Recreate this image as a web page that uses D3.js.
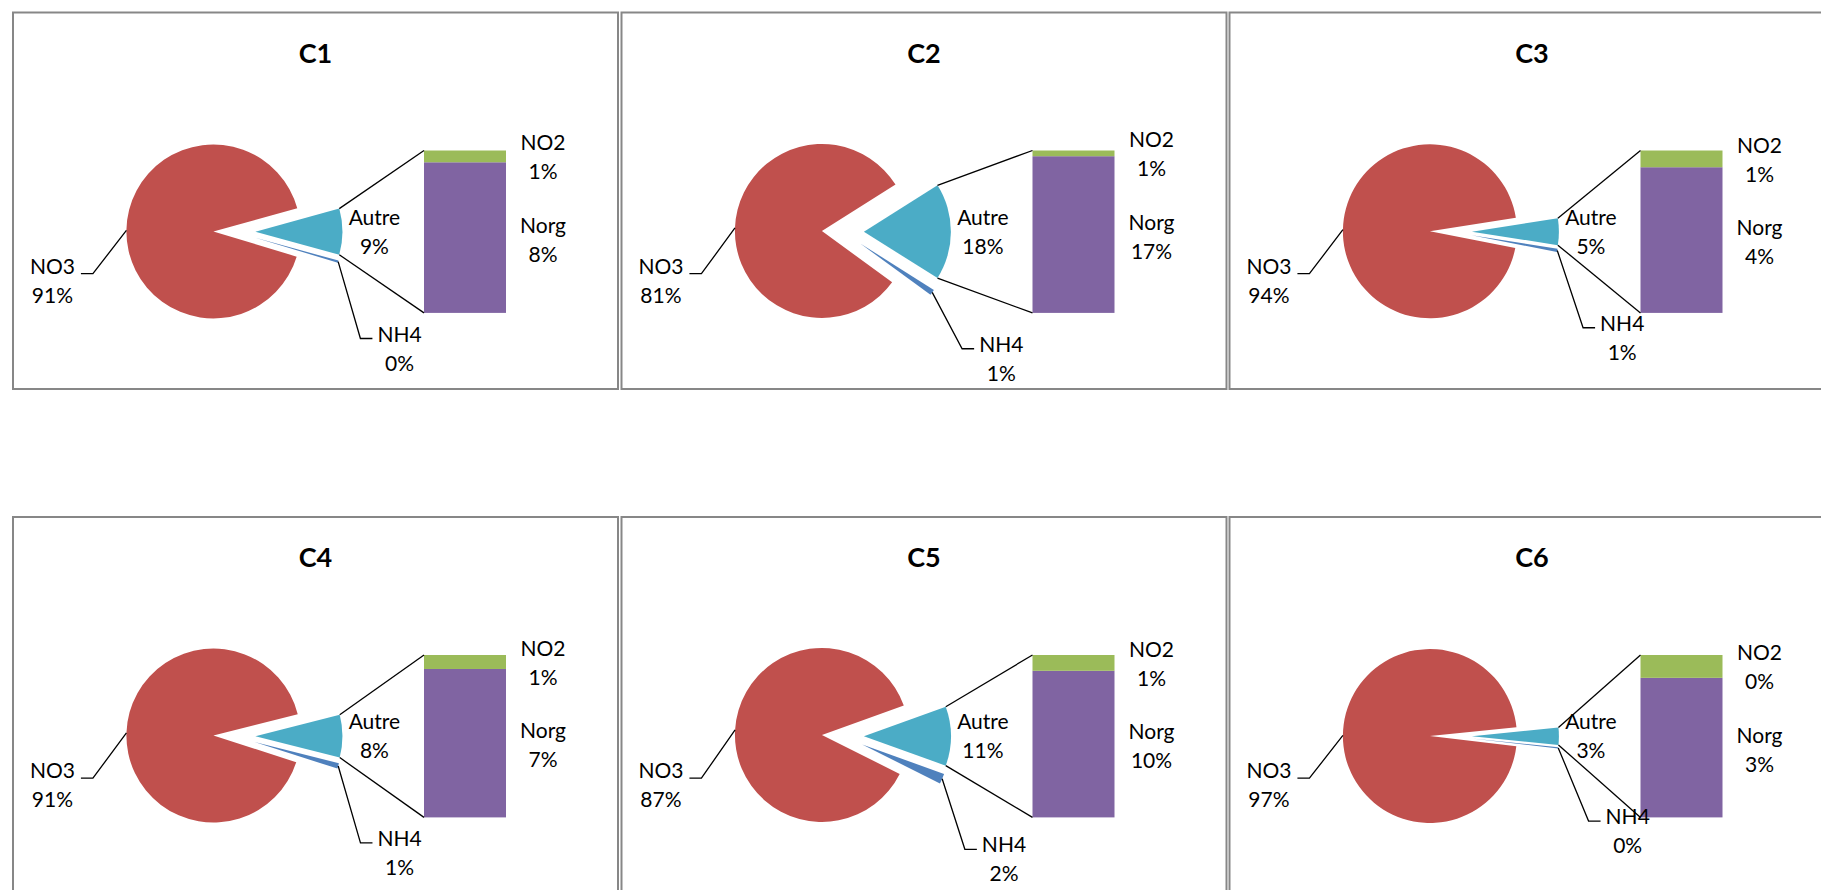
<!DOCTYPE html>
<html><head><meta charset="utf-8">
<script src="https://cdn.jsdelivr.net/npm/d3@7"></script>
<style>
body{margin:0;background:#fff;}
text{font-family:Lato,"Open Sans",sans-serif;fill:#000;}
</style>
</head><body>
<svg id="chart" width="1821" height="890"></svg>
<script>
// ---- data (percent of total N) ----
const charts = ["C1", "C2", "C3", "C4", "C5", "C6"];
const NO3  = [91.05, 81.00, 94.45, 91.10, 87.10, 96.55];
const NH4  = [0.40, 1.10, 0.60, 1.00, 1.90, 0.25];
const NO2  = [0.62, 0.63, 0.51, 0.68, 1.07, 0.45];
const Norg = [7.93, 17.27, 4.44, 7.22, 9.93, 2.75];
const otherLabel = "Autre";
const colors = {NO3: "#C0504D", Autre: "#4BACC6", NH4: "#4F81BD", NO2: "#9BBB59", Norg: "#8064A2"};

// ---- layout ----
const svg = d3.select("#chart");
const colX = [13, 621.5, 1229.5], rowY = [12.5, 517];
const baseW = 605, panelH = 376.5;
const R = 87, EXPL = 21, PX = 221.4, PY = 219.2;
const barX0 = 189.6, barW = 82, barH = 162.4, LH = 29, FS = 21;
const pct = v => Math.round(v) + "%";
const deg = Math.PI / 180;

function addLabel(g, x, y1, lines) {
  const t = g.append("text").attr("text-anchor", "middle").style("font-size", FS + "px");
  lines.forEach((s, k) => t.append("tspan").attr("x", x).attr("y", y1 + k * LH).text(s));
  return t.select("tspan").node().getComputedTextLength();
}
const line = d3.line();
const stroke = sel => sel.attr("stroke", "#000").attr("stroke-width", 1.3).attr("fill", "none");

charts.forEach((name, i) => {
  const col = i % 3, row = Math.floor(i / 3);
  const g = svg.append("g").attr("transform", `translate(${colX[col]},${rowY[row]})`);
  g.append("rect").attr("x", 0).attr("y", 0).attr("width", baseW).attr("height", panelH)
    .attr("fill", "#fff").attr("stroke", "#878787").attr("stroke-width", 2);
  g.append("text").attr("x", baseW / 2).attr("y", 50).attr("text-anchor", "middle")
    .style("font-size", "27px").style("font-weight", "bold").text(name);

  const autre = NO2[i] + Norg[i];
  const total = NO3[i] + NH4[i] + autre;
  const aAng = autre / total * 2 * Math.PI;
  const slices = [
    {key: "Autre", value: autre},
    {key: "NH4", value: NH4[i]},
    {key: "NO3", value: NO3[i]}
  ];
  const start = Math.PI / 2 - aAng / 2;
  const arcs = d3.pie().sort(null).value(d => d.value).startAngle(start).endAngle(start + 2 * Math.PI)(slices);
  const arcGen = d3.arc().innerRadius(0).outerRadius(R);
  const info = {};
  arcs.forEach(a => {
    const mid = (a.startAngle + a.endAngle) / 2;
    const ox = PX + EXPL * Math.sin(mid), oy = PY - EXPL * Math.cos(mid);
    info[a.data.key] = {a, mid, ox, oy};
    g.append("path").attr("d", arcGen(a)).attr("transform", `translate(${ox},${oy})`)
      .attr("fill", colors[a.data.key]);
  });

  // secondary stacked bar
  const y = d3.scaleLinear().domain([0, autre]).range([PY + barH / 2, PY - barH / 2]);
  const stack = d3.stack().keys(["Norg", "NO2"])([{Norg: Norg[i], NO2: NO2[i]}]);
  stack.forEach(s => {
    const d = s[0];
    g.append("rect").attr("x", PX + barX0).attr("width", barW)
      .attr("y", y(d[1])).attr("height", y(d[0]) - y(d[1])).attr("fill", colors[s.key]);
  });

  // connector lines
  const A = info.Autre;
  const topPt = [A.ox + R * Math.sin(A.a.startAngle), A.oy - R * Math.cos(A.a.startAngle)];
  const botPt = [A.ox + R * Math.sin(A.a.endAngle), A.oy - R * Math.cos(A.a.endAngle)];
  g.append("path").attr("d", line([topPt, [PX + barX0, y(autre)]])).call(stroke);
  g.append("path").attr("d", line([botPt, [PX + barX0, y(0)]])).call(stroke);

  // NO3 label
  const N = info.NO3;
  const nx = PX - 182, ny = PY + 42;
  const wN = addLabel(g, nx, ny, ["NO3", pct(NO3[i] / total * 100)]);
  const nArc = [N.ox + R * Math.sin(N.mid), N.oy - R * Math.cos(N.mid)];
  const nRight = nx + wN / 2;
  g.append("path").attr("d", line([nArc, [nRight + 18, ny], [nRight + 6, ny]])).call(stroke);

  // Autre label
  addLabel(g, PX + 140, PY - 7, [otherLabel, pct(autre / total * 100)]);

  // NO2 and Norg labels
  const no2c = (y(autre) + y(Norg[i])) / 2;
  addLabel(g, PX + 308.6, no2c - 6, ["NO2", pct(NO2[i] / total * 100)]);
  const norgc = (y(Norg[i]) + y(0)) / 2;
  addLabel(g, PX + 308.6, norgc - 5, ["Norg", pct(Norg[i] / total * 100)]);

  // NH4 label (best-fit style placement below the slice)
  const H = info.NH4;
  const theta = (H.mid - Math.PI / 2) / deg;
  const phi = (36 - 11.7 * Math.exp(-(theta - 6.2) / 10)) * deg;
  const hx = PX + 194 * Math.cos(phi), hy = PY + 194 * Math.sin(phi) + 8;
  const wH = addLabel(g, hx, hy, ["NH4", pct(NH4[i] / total * 100)]);
  const hArc = [H.ox + R * Math.sin(H.mid), H.oy - R * Math.cos(H.mid)];
  const hLeft = hx - wH / 2;
  g.append("path").attr("d", line([hArc, [hLeft - 17, hy - 3], [hLeft - 5, hy - 3]])).call(stroke);
});
</script>
</body></html>
